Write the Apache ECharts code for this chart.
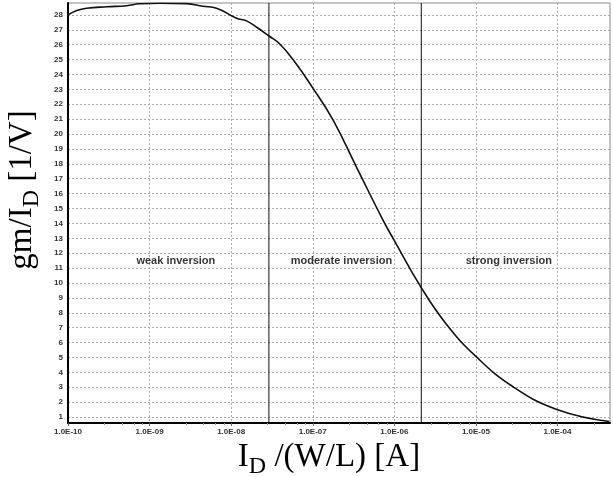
<!DOCTYPE html>
<html>
<head>
<meta charset="utf-8">
<script src="https://cdn.jsdelivr.net/npm/echarts@6/dist/echarts.min.js"></script>
<style>
  html, body { margin: 0; padding: 0; background: #fff; }
  #chart { width: 613px; height: 477px; }
</style>
</head>
<body>
<div id="chart"></div>
<script>
// Drain current normalised by W/L [A]
const idValues = [1.0e-10, 1.28e-10, 1.69e-10, 2.98e-10, 5.22e-10, 7.60e-10, 1.34e-9, 2.84e-9,
  4.49e-9, 6.61e-9, 1.16e-8, 1.54e-8, 2.12e-8, 2.88e-8, 3.94e-8, 5.73e-8, 1.0e-7, 1.77e-7,
  3.41e-7, 7.23e-7, 1.0e-6, 2.12e-6, 4.32e-6, 1.0e-5, 2.82e-5, 1.0e-4, 4.31e-4];
// gm/ID [1/V]
const gmIdValues = [28.0, 28.3, 28.45, 28.55, 28.62, 28.75, 28.78, 28.76,
  28.58, 28.45, 27.78, 27.6, 27.12, 26.6, 26.05, 25.0, 23.1, 20.95,
  17.82, 14.24, 12.85, 9.72, 7.25, 5.07, 3.05, 1.49, 0.70];
// region boundaries
const boundaries = [2.9e-8, 2.14e-6];
// region labels
const regionNames = ['weak inversion', 'moderate inversion', 'strong inversion'];
const regionX = [2.1e-9, 2.25e-7, 2.53e-5];
const regionY = [11.5, 11.5, 11.5];
// tick labels
const xTicks = [1e-10, 1e-9, 1e-8, 1e-7, 1e-6, 1e-5, 1e-4];
const yTicks = [1,2,3,4,5,6,7,8,9,10,11,12,13,14,15,16,17,18,19,20,21,22,23,24,25,26,27,28];
const yMin = 0.6, yMax = 28.8;

function fmtExp(v) {
  const s = Number(v).toExponential(1).toUpperCase();
  const m = s.match(/^(-?\d\.\d)E([+-])(\d+)$/);
  if (!m) return s;
  const e = m[3].length < 2 ? '0' + m[3] : m[3];
  return m[1] + 'E' + (m[2] === '-' ? '-' : '+') + e;
}

const chart = echarts.init(document.getElementById('chart'), null, { renderer: 'canvas' });
const series = [
  {
    type: 'line',
    data: idValues.map((x, i) => [x, gmIdValues[i]]),
    showSymbol: false,
    smooth: 0.45,
    lineStyle: { color: '#111', width: 1.6 },
    z: 4
  },
  {
    type: 'scatter',
    symbolSize: 0,
    data: regionNames.map((n, i) => [regionX[i], regionY[i], n]),
    label: {
      show: true,
      position: 'inside',
      formatter: p => p.value[2],
      fontFamily: 'Liberation Sans', fontSize: 11, fontWeight: 'bold', color: '#000'
    },
    silent: true,
    z: 5
  }
];
boundaries.forEach(b => {
  series.push({
    type: 'line',
    data: [[b, yMin], [b, yMax]],
    showSymbol: false,
    silent: true,
    lineStyle: { color: '#111', width: 1 },
    z: 3
  });
});

const option = {
  animation: false,
  backgroundColor: '#fff',
  grid: { left: 68, right: 3, top: 3, bottom: 54, show: true, borderColor: '#888', borderWidth: 1,
    backgroundColor: 'transparent', outerBoundsMode: 'none', containLabel: false },
  xAxis: {
    type: 'log',
    min: 1e-10,
    max: 4.4e-4,
    logBase: 10,
    name: '{a|I}{b|D}{a| /(W/L) [A]}',
    nameLocation: 'middle',
    nameGap: 17,
    nameTextStyle: {
      padding: [0, 20, 0, 0],
      rich: {
        a: { fontFamily: 'Liberation Serif', fontSize: 33, color: '#000', padding: [0, 0, 5, 0], verticalAlign: 'bottom' },
        b: { fontFamily: 'Liberation Serif', fontSize: 24, color: '#000', verticalAlign: 'bottom' }
      }
    },
    axisLine: { show: true, lineStyle: { color: '#000', width: 2 } },
    axisTick: { show: true, length: 3, lineStyle: { color: '#666' }, customValues: xTicks },
    minorTick: { show: true, splitNumber: 5, length: 2, lineStyle: { color: '#999' } },
    axisLabel: {
      customValues: xTicks,
      formatter: function (v) { return fmtExp(v); },
      fontFamily: 'Liberation Sans', fontSize: 8, fontWeight: 'bold', color: '#333', margin: 5
    },
    splitLine: { show: true, lineStyle: { color: '#aaa', type: [2, 2], width: 1 } }
  },
  yAxis: {
    type: 'value',
    min: yMin,
    max: yMax,
    name: '{a|gm/I}{b|D}{a| [1/V]}',
    nameLocation: 'middle',
    nameRotate: 90,
    nameGap: 24,
    nameMoveOverlap: false,
    nameTextStyle: {
      padding: [10, 0, 0, 46],
      rich: {
        a: { fontFamily: 'Liberation Serif', fontSize: 33, color: '#000', padding: [0, 0, 5, 0], verticalAlign: 'bottom' },
        b: { fontFamily: 'Liberation Serif', fontSize: 24, color: '#000', verticalAlign: 'bottom' }
      }
    },
    axisLine: { show: true, lineStyle: { color: '#000', width: 2 } },
    axisTick: { show: false, customValues: yTicks },
    axisLabel: {
      customValues: yTicks,
      fontFamily: 'Liberation Sans', fontSize: 8, fontWeight: 'bold', color: '#333', margin: 5
    },
    splitLine: { show: true, lineStyle: { color: '#aaa', type: [2, 2], width: 1 } }
  },
  series: series
};
chart.setOption(option);
</script>
</body>
</html>
